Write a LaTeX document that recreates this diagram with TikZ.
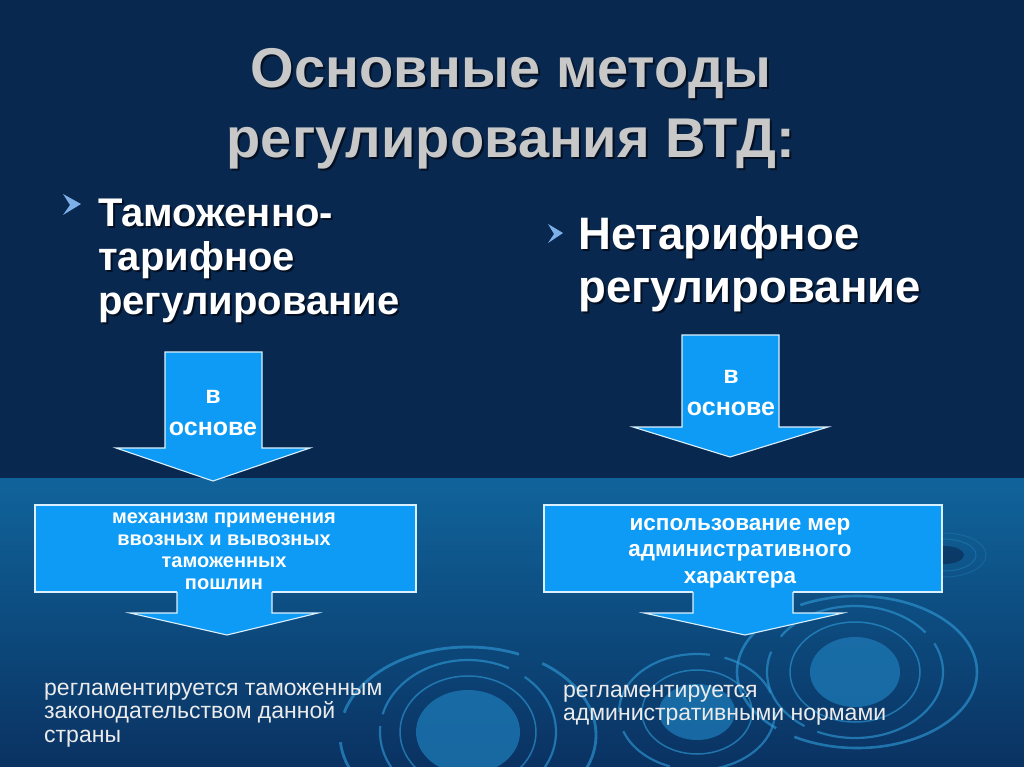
\documentclass[tikz,border=0pt]{standalone}
\usepackage{fontspec}
\setmainfont{Liberation Sans}
\usetikzlibrary{calc}
\definecolor{topbg}{RGB}{9,40,80}
\definecolor{seatop}{RGB}{16,100,155}
\definecolor{seabot}{RGB}{10,50,98}
\definecolor{arrowblue}{RGB}{14,155,245}
\definecolor{ringcol}{RGB}{45,150,210}
\definecolor{diskcol}{RGB}{28,118,178}
\definecolor{bulletcol}{RGB}{125,175,232}
\definecolor{titlegray}{RGB}{200,200,200}
\definecolor{notecol}{RGB}{235,235,235}
\definecolor{shadowcol}{RGB}{4,16,34}
\newcommand\ShTxt[2]{\leavevmode\rlap{\kern#1\raisebox{-#1}{\textcolor{shadowcol}{#2}}}#2}
\tikzset{
  blockfill/.style={fill=arrowblue},
  blockline/.style={draw=white!85!arrowblue,line width=1.1pt,line join=miter},
  boxstyle/.style={fill=arrowblue,draw=white!85!arrowblue,line width=1.1pt},
  titletext/.style={font=\fontsize{56}{62}\selectfont\bfseries,text=titlegray,inner sep=0pt,anchor=base},
  headL/.style={font=\fontsize{40}{44}\selectfont\bfseries,text=white,inner sep=0pt,anchor=base west},
  headR/.style={font=\fontsize{45.5}{50}\selectfont\bfseries,text=white,inner sep=0pt,anchor=base west},
  arrowtext/.style={font=\fontsize{25}{28}\selectfont\bfseries,text=white,inner sep=0pt,anchor=base},
  boxtextL/.style={font=\fontsize{20}{22}\selectfont\bfseries,text=white,inner sep=0pt,anchor=base},
  boxtextR/.style={font=\fontsize{22.5}{25}\selectfont\bfseries,text=white,inner sep=0pt,anchor=base},
  notetext/.style={font=\fontsize{23}{26}\selectfont,text=notecol,inner sep=0pt,anchor=base west},
  ring/.style={draw=ringcol,opacity=0.65,line width=2.2pt},
  disk/.style={fill=diskcol,opacity=0.8},
  bulletmark/.style={fill=bulletcol},
}
\begin{document}
\begin{tikzpicture}[x=1pt,y=-1pt]
\useasboundingbox (0,0) rectangle (1024,767);
% background
\fill[topbg] (0,0) rectangle (1024,478);
\shade[top color=seatop,bottom color=seabot] (0,478) rectangle (1024,767);
% ripples
\begin{scope}
\clip (0,478) rectangle (1024,767);
% left ripple
\fill[disk] (468,732) ellipse [x radius=52,y radius=42];
\draw[ring,line width=1.5pt] (468,732) ellipse [x radius=68,y radius=56];
\draw[ring,dash pattern=on 150pt off 18pt on 90pt off 12pt] (468,732) ellipse [x radius=88,y radius=72];
\draw[ring,line width=2.8pt,dash pattern=on 200pt off 25pt on 110pt off 30pt] (468,735) ellipse [x radius=128,y radius=88];
% middle ripple
\fill[disk] (697,712) ellipse [x radius=38,y radius=28];
\draw[ring,line width=1.5pt] (697,712) ellipse [x radius=55,y radius=42];
\draw[ring,dash pattern=on 120pt off 15pt on 60pt off 20pt] (697,712) ellipse [x radius=78,y radius=58];
% right ripple
\fill[disk] (855,672) ellipse [x radius=45,y radius=35];
\draw[ring,line width=1.5pt] (855,672) ellipse [x radius=65,y radius=50];
\draw[ring,dash pattern=on 160pt off 14pt on 90pt off 18pt] (855,672) ellipse [x radius=88,y radius=66];
\draw[ring,line width=2.6pt,dash pattern=on 220pt off 20pt on 140pt off 30pt] (857,672) ellipse [x radius=120,y radius=76];
% small drop
\fill[topbg,opacity=0.6] (944,555) ellipse [x radius=20,y radius=9];
\draw[ringcol,opacity=0.35,line width=1pt] (944,555) ellipse [x radius=32,y radius=16];
\draw[ringcol,opacity=0.25,line width=1pt] (944,555) ellipse [x radius=42,y radius=22];
\end{scope}
% title
\node[titletext] (t1) at (511,88) {\ShTxt{2pt}{Основные методы}};
\node[titletext] (t2) at (511,158) {\ShTxt{2pt}{регулирования ВТД:}};
% bullets
\fill[bulletmark] (63,194) -- (81,204) -- (63,215) -- (70,205) -- cycle;
\fill[bulletmark] (548,224) -- (563,233) -- (548,243) -- (554,234) -- cycle;
% left heading
\node[headL] (hl1) at (98,226) {\ShTxt{2pt}{Таможенно-}};
\node[headL] (hl2) at (98,270) {\ShTxt{2pt}{тарифное}};
\node[headL] (hl3) at (98,314) {\ShTxt{2pt}{регулирование}};
% right heading
\node[headR] (hr1) at (578,249) {\ShTxt{2pt}{Нетарифное}};
\node[headR] (hr2) at (578,302) {\ShTxt{2pt}{регулирование}};
% top arrows
\filldraw[blockfill,blockline] (165,352) -- (262,352) -- (262,448) -- (310,448) -- (213,481) -- (116,448) -- (165,448) -- cycle;
\filldraw[blockfill,blockline] (682,335) -- (779,335) -- (779,427) -- (828,427) -- (730,457) -- (633,427) -- (682,427) -- cycle;
\node[arrowtext] (al1) at (213,403) {в};
\node[arrowtext] (al2) at (213,435) {основе};
\node[arrowtext] (ar1) at (731,383) {в};
\node[arrowtext] (ar2) at (731,415) {основе};
% boxes
\filldraw[boxstyle] (35,505) rectangle (416,592);
\filldraw[boxstyle] (544,505) rectangle (942,592);
% lower arrows
\fill[blockfill] (177,590) -- (272,590) -- (272,613) -- (318,613) -- (227,635) -- (130,613) -- (177,613) -- cycle;
\draw[blockline] (177,592) -- (177,613) -- (130,613) -- (227,635) -- (318,613) -- (272,613) -- (272,592);
\fill[blockfill] (693,590) -- (793,590) -- (793,613) -- (843,613) -- (745,635) -- (644,613) -- (693,613) -- cycle;
\draw[blockline] (693,592) -- (693,613) -- (644,613) -- (745,635) -- (843,613) -- (793,613) -- (793,592);
% box texts
\node[boxtextL] (bl1) at (224,523) {механизм применения};
\node[boxtextL] (bl2) at (224,545) {ввозных и вывозных};
\node[boxtextL] (bl3) at (224,567.5) {таможенных};
\node[boxtextL] (bl4) at (224,589.5) {пошлин};
\node[boxtextR] (br1) at (740,530) {использование мер};
\node[boxtextR] (br2) at (740,556) {административного};
\node[boxtextR] (br3) at (740,583) {характера};
% notes
\node[notetext] (nl1) at (44,695) {регламентируется таможенным};
\node[notetext] (nl2) at (44,718) {законодательством данной};
\node[notetext] (nl3) at (44,742) {страны};
\node[notetext] (nr1) at (563,697) {регламентируется};
\node[notetext] (nr2) at (563,720) {административными нормами};
\end{tikzpicture}
\end{document}
